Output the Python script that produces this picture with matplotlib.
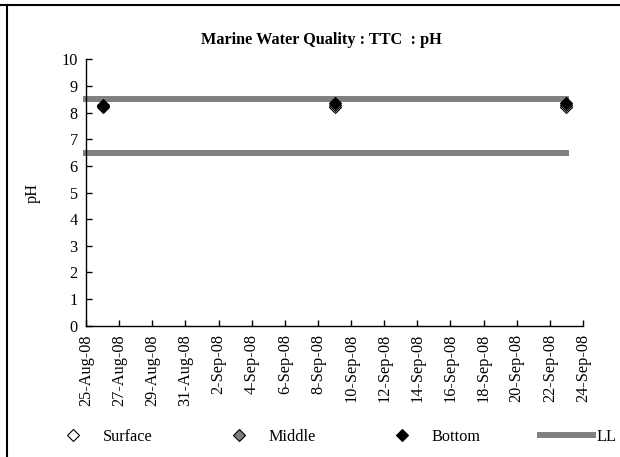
import numpy as np
import matplotlib
matplotlib.use('Agg')
import matplotlib.pyplot as plt
import matplotlib.dates as mdates
from matplotlib.lines import Line2D
from datetime import datetime, timedelta
##################################################################
matplotlib.rcParams.update({'font.family': 'Liberation Serif', 'font.size': 11.7})
##################################################################
dates = ['2008-08-26', '2008-09-09', '2008-09-23']
surface = [8.20, 8.22, 8.22]
middle = [8.25, 8.28, 8.28]
bottom = [8.30, 8.36, 8.36]

limit_dates = ['2008-08-25', '2008-09-23']
upper_limit = [8.5, 8.5]
lower_limit = [6.5, 6.5]

x_start, x_end = '2008-08-25', '2008-09-24'
##################################################################
to_num = lambda ds: mdates.date2num([datetime.strptime(d, '%Y-%m-%d') for d in ds])
xd = to_num(dates)
xl = to_num(limit_dates)

fig = plt.figure(figsize=[6.2, 4.57], dpi=100)
ax = fig.add_axes([86/620, 1 - 325.7/457, (583 - 86)/620, (325.7 - 59.5)/457])

grey = '#808080'
ax.plot(xl, upper_limit, color=grey, lw=4.3, solid_capstyle='projecting', clip_on=False, zorder=2)
ax.plot(xl, lower_limit, color=grey, lw=4.3, solid_capstyle='projecting', clip_on=False, zorder=2,
        label='LL')

mk = dict(marker='D', ms=6.5, ls='none', mec='black', mew=0.8, zorder=3, clip_on=False)
ax.plot(xd, surface, mfc='white', label='Surface', **mk)
ax.plot(xd, middle, mfc=grey, label='Middle', **mk)
ax.plot(xd, bottom, mfc='black', label='Bottom', **mk)

##################################################################
d0 = datetime.strptime(x_start, '%Y-%m-%d')
d1 = datetime.strptime(x_end, '%Y-%m-%d')
tick_days = [d0 + timedelta(days=k) for k in range(0, (d1 - d0).days + 1, 2)]
ax.set_xticks(mdates.date2num(tick_days))
ax.set_xticklabels(['%d-%s' % (d.day, d.strftime('%b-%y')) for d in tick_days], rotation=90)
ax.set_xlim(mdates.date2num(d0), mdates.date2num(d1))

ax.set_ylim(0, 10)
ax.set_yticks(range(0, 11))
ax.set_ylabel('pH', labelpad=14.7)

for s in ['top', 'right']:
    ax.spines[s].set_visible(False)
for s in ['left', 'bottom']:
    ax.spines[s].set_linewidth(1.0)
ax.tick_params(direction='in', length=4, width=1, pad=6)

fig.text(321/620, 1 - 40/457, 'Marine Water Quality : TTC  : pH', ha='center', va='center',
         fontweight='bold', fontsize=11.7)

##################################################################
h, l = ax.get_legend_handles_labels()
order = [1, 2, 3, 0]
fig.legend([h[i] for i in order], [l[i] for i in order], loc='center left',
           bbox_to_anchor=(47/620, 1 - 437/457), ncol=4, frameon=False, borderpad=0,
           borderaxespad=0, handlelength=3.26, handletextpad=0.2, columnspacing=3.66,
           numpoints=1)

# frame lines of the original page
fig.add_artist(Line2D([0, 1], [1 - 5/457, 1 - 5/457], transform=fig.transFigure, color='black', lw=1.5))
fig.add_artist(Line2D([7/620, 7/620], [0, 1 - 5/457], transform=fig.transFigure, color='black', lw=1.5))

plt.savefig('out.png', dpi=100)
